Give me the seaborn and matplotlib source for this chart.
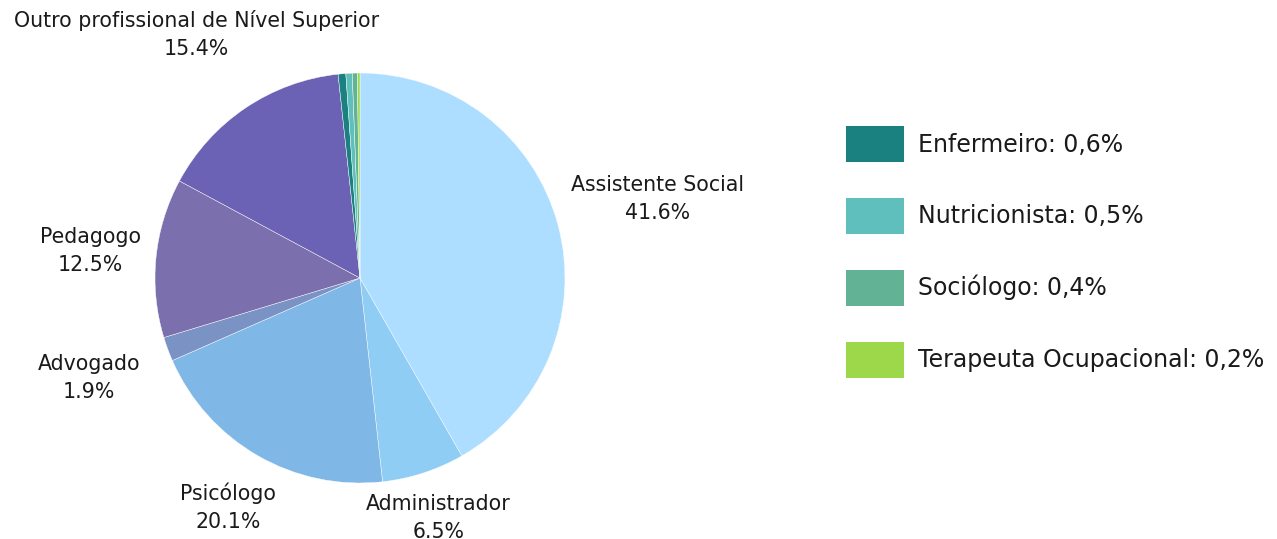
import numpy as np
import matplotlib
matplotlib.use("Agg")
import matplotlib.pyplot as plt
import seaborn as sns

# data, clockwise from 12 o'clock
profissoes = ["Assistente Social", "Administrador", "Psicólogo", "Advogado", "Pedagogo",
              "Outro profissional de Nível Superior", "Enfermeiro", "Nutricionista",
              "Sociólogo", "Terapeuta Ocupacional"]
percentuais = [41.6, 6.5, 20.1, 1.9, 12.5, 15.4, 0.6, 0.5, 0.4, 0.2]
cores = ["#addeff", "#8fcdf5", "#7fb8e6", "#7b93c4", "#7b70ad",
         "#6c62b5", "#1b8180", "#5fbfbd", "#62b395", "#9cd84a"]

# how far out (in radii) each outside label sits
label_dist = [1.50, 1.23, 1.29, 1.41, 1.32, 1.43]

sns.set_theme(style="white")
plt.rcParams["font.family"] = ["DejaVu Sans"]

fig = plt.figure(figsize=(12.77, 5.39), dpi=100)
ax = fig.add_axes([0, 0, 1, 1])

wedges, _ = ax.pie(percentuais, colors=cores, startangle=90, counterclock=False,
                   radius=1.0, wedgeprops=dict(edgecolor="white", linewidth=0.3))

# pixel layout: radius 205px, centre at (360, 278) from top-left
r_px = 205.0
ax.set_xlim(-360 / r_px, (1277 - 360) / r_px)
ax.set_ylim(-(539 - 278) / r_px, 278 / r_px)
ax.set_aspect("auto")
ax.axis("off")

# outside labels for the big slices
for i, w in enumerate(wedges):
    if percentuais[i] < 1:
        continue
    ang = np.deg2rad((w.theta1 + w.theta2) / 2)
    d = label_dist[i]
    ax.text(d * np.cos(ang), d * np.sin(ang), f"{profissoes[i]}\n{percentuais[i]:.1f}%",
            ha="center", va="center", fontsize=14.8, color="#1a1a1a", linespacing=1.5)

# legend for the tiny slices
small = [i for i, v in enumerate(percentuais) if v < 1]
handles = [wedges[i] for i in small]
labels = [f"{profissoes[i]}: {str(percentuais[i]).replace('.', ',')}%" for i in small]
leg = fig.legend(handles, labels, loc="upper left", bbox_to_anchor=(846 / 1277, 1 - 126 / 539),
                 frameon=False, fontsize=17, borderpad=0, borderaxespad=0,
                 handlelength=2.46, handleheight=1.97, handletextpad=0.6, labelspacing=1.52)
for h in leg.legend_handles:
    h.set_edgecolor("none")
for t in leg.get_texts():
    t.set_color("#1a1a1a")

fig.savefig("out.png", dpi=100)
